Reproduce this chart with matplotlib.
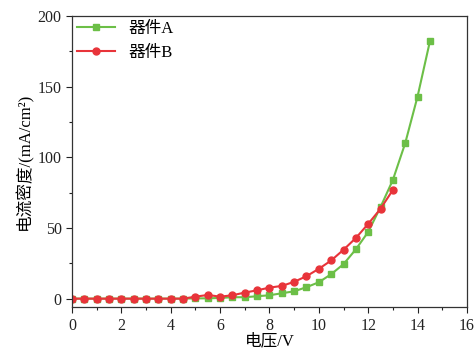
import matplotlib
matplotlib.use("Agg")
import matplotlib.pyplot as plt
from matplotlib.ticker import MultipleLocator

plt.rcParams['font.family'] = ['Liberation Serif', 'Noto Sans CJK SC']

voltage_a = [0, 0.5, 1, 1.5, 2, 2.5, 3, 3.5, 4, 4.5, 5, 5.5, 6, 6.5, 7, 7.5, 8, 8.5,
             9, 9.5, 10, 10.5, 11, 11.5, 12, 12.5, 13, 13.5, 14, 14.5]
current_a = [0, 0, 0, 0, 0, 0, 0, 0, 0, 0, 0.2, 0.2, 0.5, 1.0, 1.0, 1.7, 2.4, 3.8,
             5.2, 8.1, 11.6, 17.3, 24.4, 34.9, 47.2, 64.8, 84, 110, 143, 182]
voltage_b = [0, 0.5, 1, 1.5, 2, 2.5, 3, 3.5, 4, 4.5, 5, 5.5, 6, 6.5, 7, 7.5, 8, 8.5,
             9, 9.5, 10, 10.5, 11, 11.5, 12, 12.5, 13]
current_b = [0, 0, 0, 0, 0, 0, 0, 0, 0, 0, 1.4, 2.6, 1.4, 2.4, 4.3, 5.9, 7.8, 9.0,
             11.9, 15.9, 21.1, 27.0, 34.6, 42.9, 52.9, 63.6, 76.9]
labels = ['器件A', '器件B']

fig = plt.figure(figsize=(4.74, 3.49), dpi=100)
ax = fig.add_axes([0.152, 0.120, 0.833, 0.834])

ax.plot(voltage_a, current_a, color='#6cbf47', marker='s', markersize=4.5, linewidth=1.5, label=labels[0])
ax.plot(voltage_b, current_b, color='#e8343a', marker='o', markersize=5, linewidth=1.5, label=labels[1])

ax.set_xlim(0, 16)
ax.set_ylim(-6, 200)
ax.xaxis.set_major_locator(MultipleLocator(2))
ax.xaxis.set_minor_locator(MultipleLocator(1))
ax.yaxis.set_major_locator(MultipleLocator(50))
ax.yaxis.set_minor_locator(MultipleLocator(25))
ax.tick_params(which='both', direction='out', top=False, right=False, labelsize=11.5, colors='#222222')
ax.tick_params(which='major', length=4, width=0.8)
ax.tick_params(which='minor', length=2, width=0.8)
for s in ax.spines.values():
    s.set_linewidth(0.9)
    s.set_color('#333333')

ax.set_xlabel('电压/V', fontsize=12, labelpad=0)
ax.set_ylabel('电流密度/(mA/cm²)', fontsize=12, labelpad=3)

ax.legend(loc='upper left', frameon=False, fontsize=12, handlelength=2.3,
          borderaxespad=0.0, borderpad=0.3, labelspacing=0.45, handletextpad=0.8)

fig.savefig('out.png', dpi=100)
